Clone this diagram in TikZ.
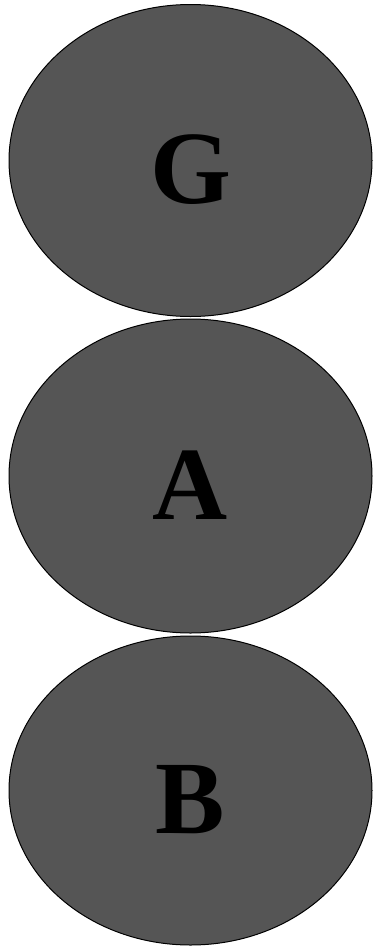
\documentclass[tikz,border=0pt]{standalone}
\usepackage{fontspec}
\setmainfont{Liberation Serif}
\usepackage{tikz}
\usetikzlibrary{shapes.geometric}

\definecolor{blobgray}{HTML}{555555}

\begin{document}
\begin{tikzpicture}[
    x=1pt, y=1pt,
    blob/.style={
        ellipse, draw=black, line width=1pt, fill=blobgray,
        minimum width=363pt, minimum height=312pt, inner sep=0pt,
        font=\fontsize{104}{104}\selectfont\bfseries,
        text height=86pt, text depth=0pt
    },
]
\useasboundingbox (0, 0) rectangle (373, -948);

% three stacked ellipses
\node[blob] (G) at (190.5, -160.5) {G};
\node[blob, minimum height=314pt] (A) at (190.5, -476) {A};
\node[blob, minimum height=309pt] (B) at (190.5, -790.5) {B};

\end{tikzpicture}
\end{document}
